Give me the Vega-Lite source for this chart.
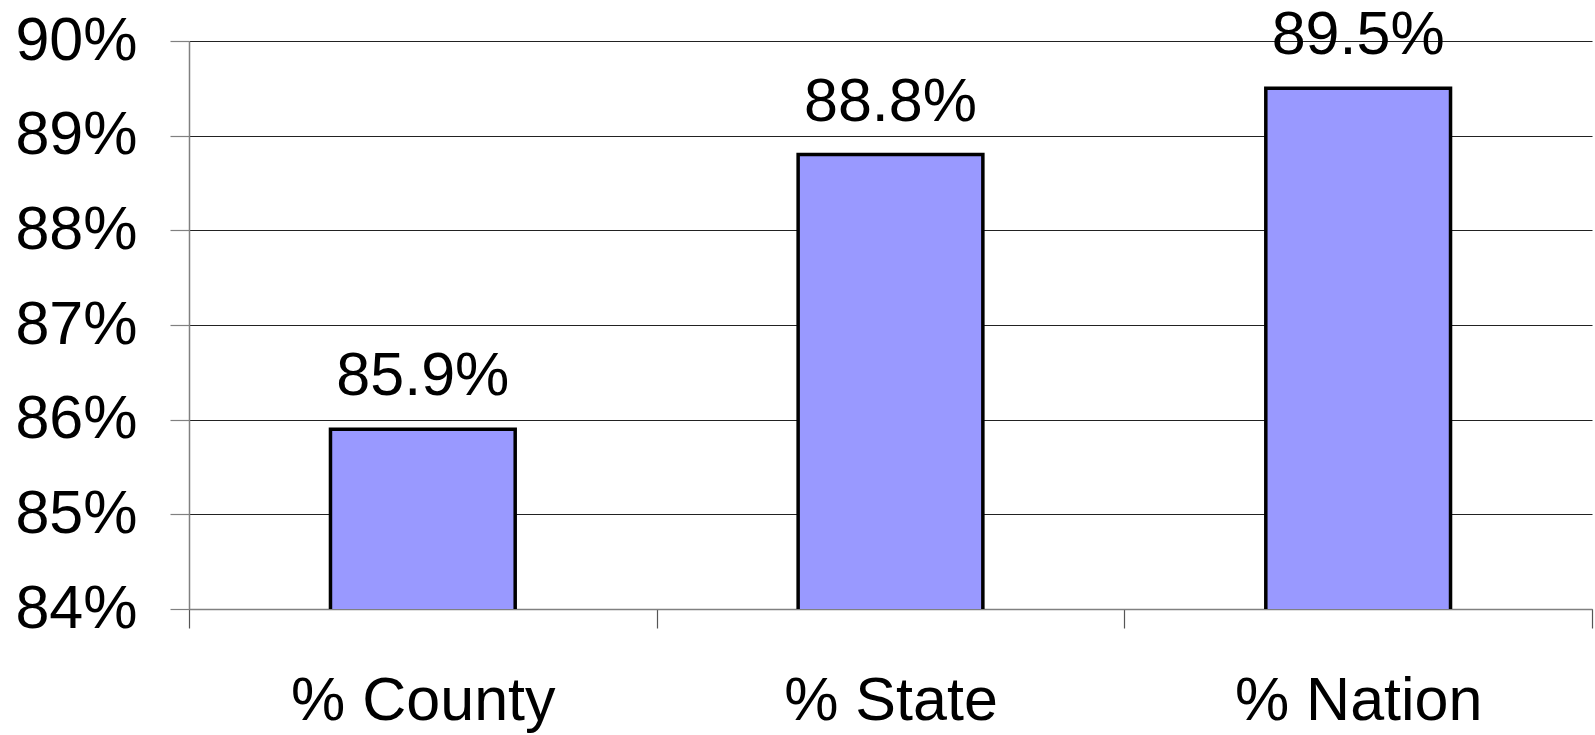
{
  "$schema": "https://vega.github.io/schema/vega-lite/v6.json",
  "width": 1403,
  "height": 568,
  "autosize": "none",
  "padding": {"left": 189, "top": 41, "right": 3, "bottom": 126},
  "background": "white",
  "config": {"view": {"stroke": null}, "font": "Liberation Sans"},
  "data": {"values": [
    {"category": "% County", "value": 0.859},
    {"category": "% State", "value": 0.888},
    {"category": "% Nation", "value": 0.895}
  ]},
  "encoding": {
    "x": {"field": "category", "type": "nominal", "sort": null,
      "scale": {"paddingInner": 0, "paddingOuter": 0},
      "axis": {"title": null, "labelAngle": 0, "labelFontSize": 61, "labelColor": "black", "labelFont": "Liberation Sans", "labelLimit": 0,
        "tickBand": "extent", "tickSize": 19, "tickColor": "#555", "tickWidth": 1.2,
        "domainColor": "#808080", "domainWidth": 1.5, "labelPadding": 43, "grid": false}},
    "y": {"field": "value", "type": "quantitative",
      "scale": {"domain": [0.84, 0.90], "nice": false, "zero": false},
      "axis": {"title": null, "format": ".0%", "values": [0.84, 0.85, 0.86, 0.87, 0.88, 0.89, 0.90],
        "labelFontSize": 61, "labelColor": "black", "labelFont": "Liberation Sans", "labelLimit": 0,
        "tickSize": 19, "tickColor": "#808080", "tickWidth": 1.2, "labelPadding": 33,
        "domainColor": "#808080", "domainWidth": 1.5,
        "grid": true, "gridColor": "#222", "gridWidth": 1.1}}
  },
  "layer": [
    {"mark": {"type": "bar", "width": {"band": 0.395}, "fill": "#9999FF", "stroke": "black", "strokeWidth": 3.5, "clip": true}},
    {"mark": {"type": "text", "baseline": "alphabetic", "dy": -34, "fontSize": 61, "font": "Liberation Sans", "color": "black"},
      "encoding": {"text": {"field": "value", "type": "quantitative", "format": ".1%"}}}
  ]
}
